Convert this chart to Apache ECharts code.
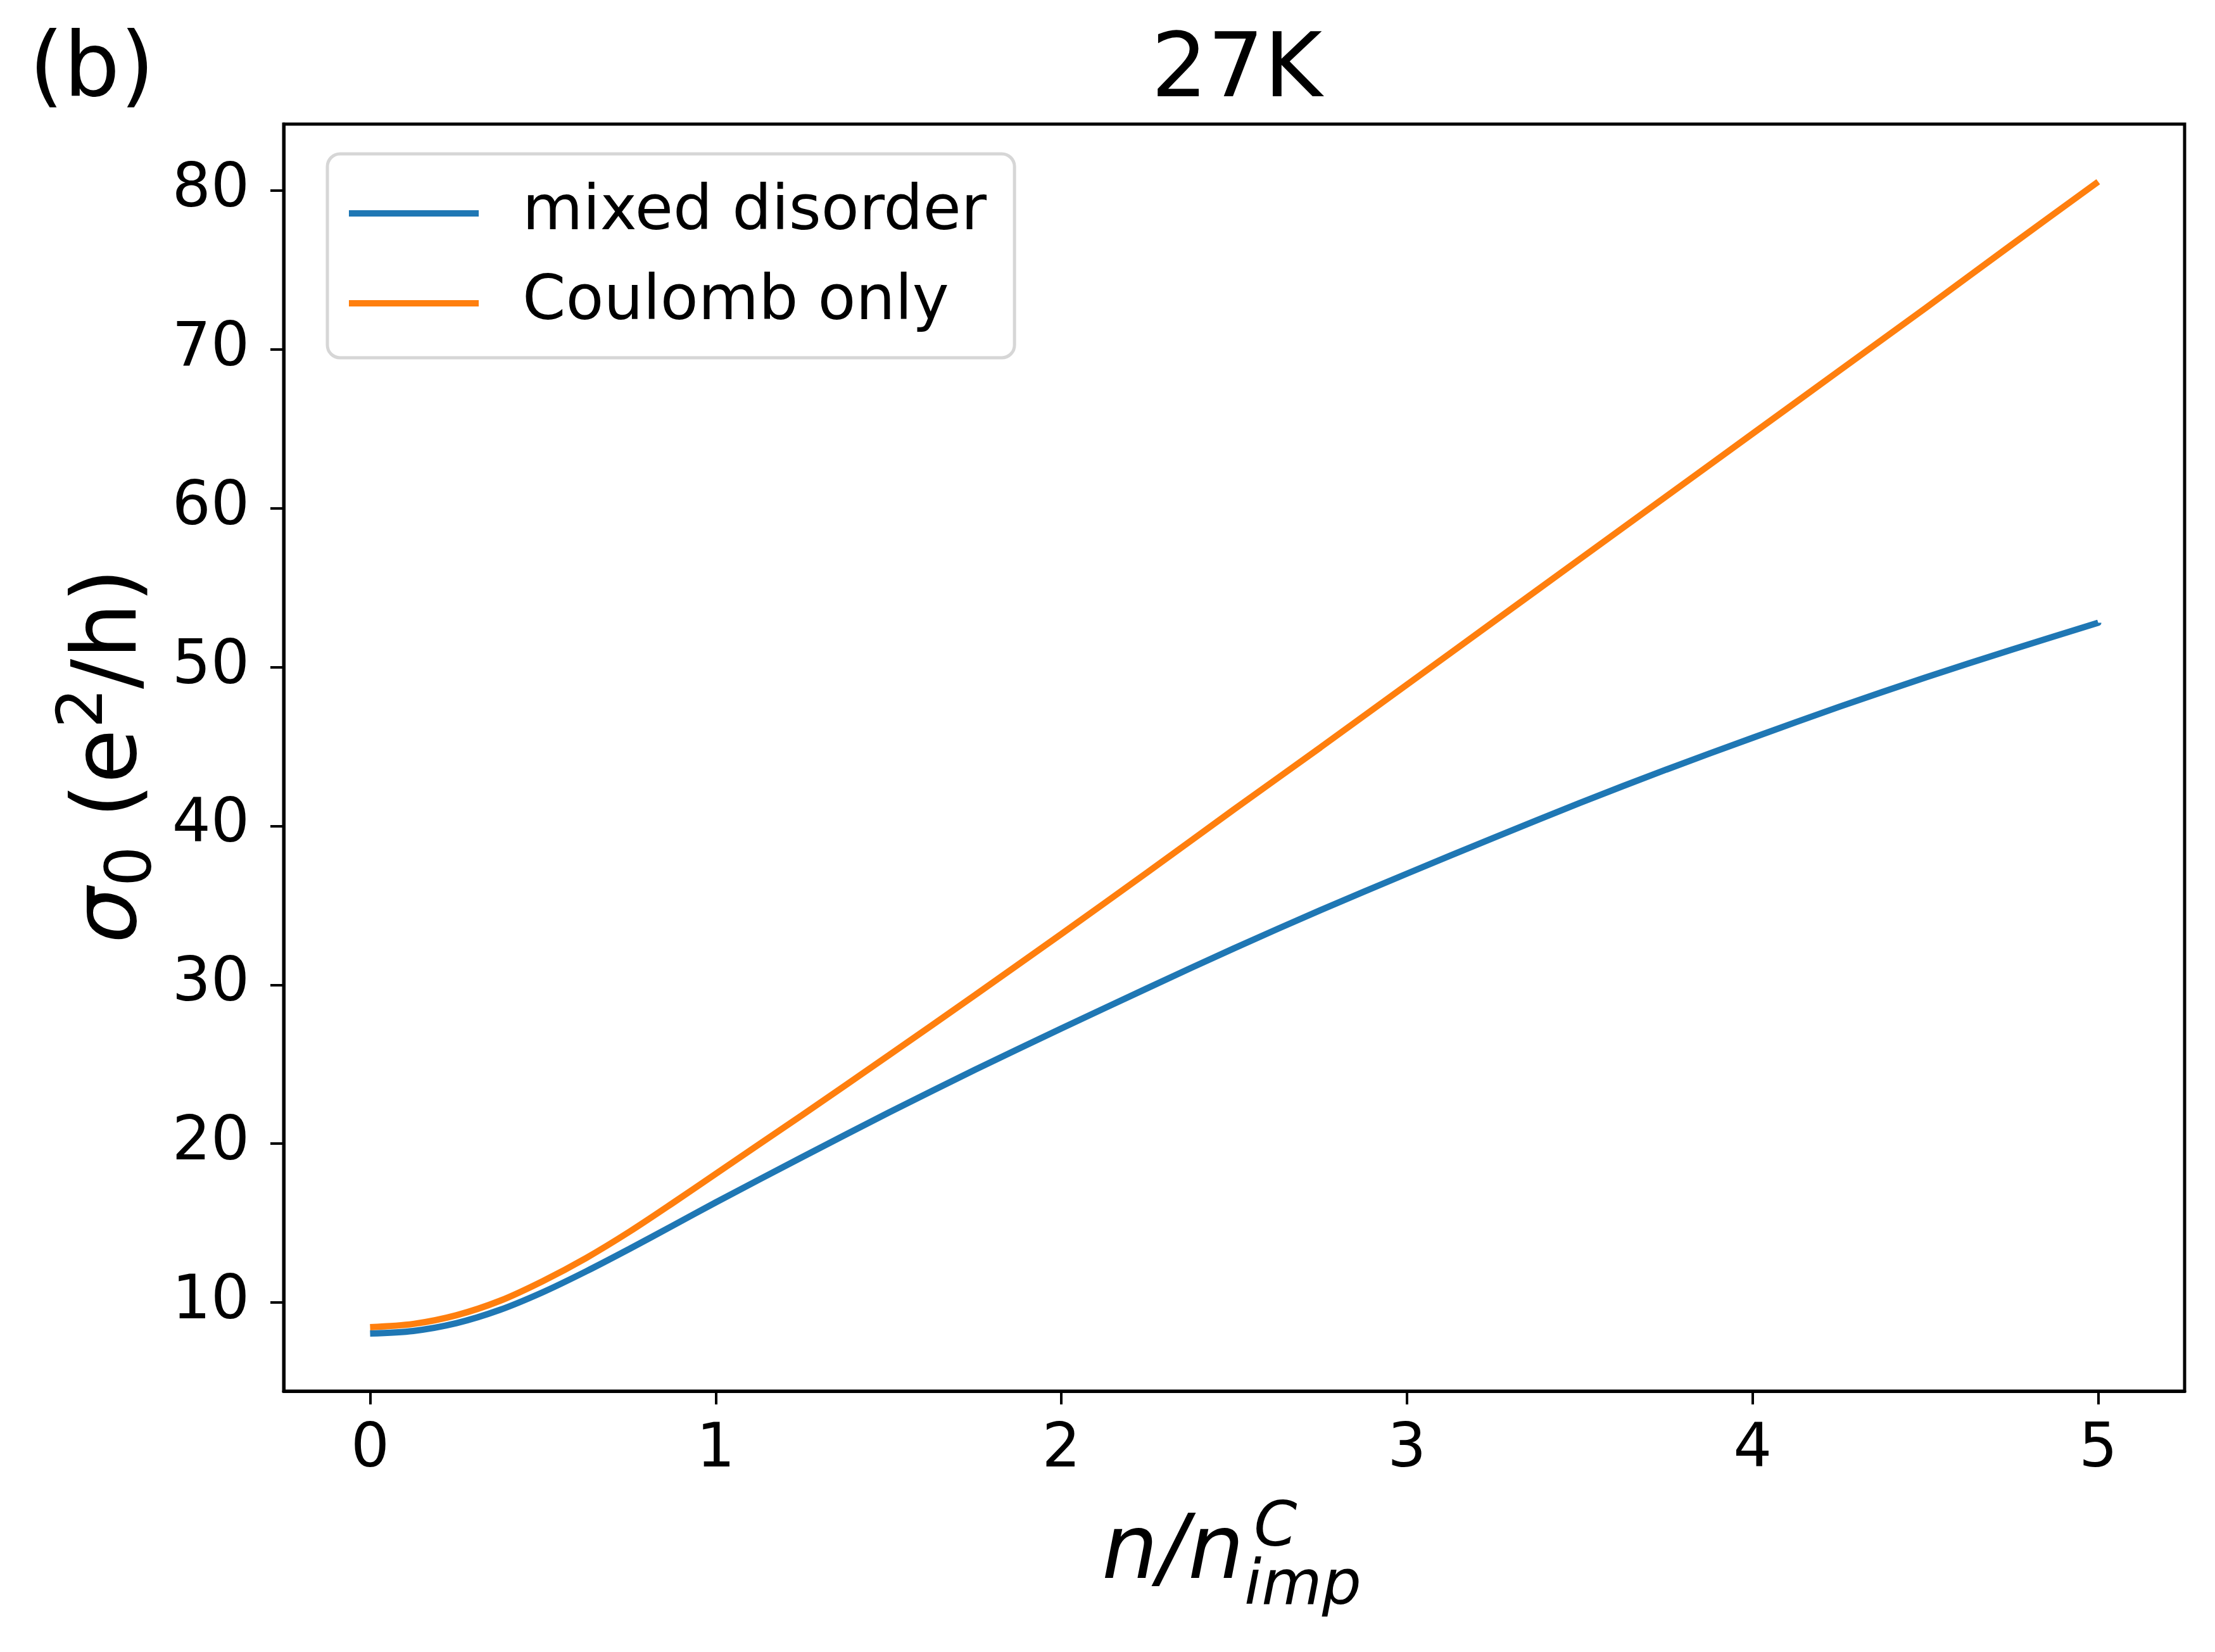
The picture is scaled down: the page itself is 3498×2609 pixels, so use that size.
<!DOCTYPE html>
<html>
<head>
<meta charset="utf-8">
<script src="https://cdn.jsdelivr.net/npm/echarts@6/dist/echarts.min.js"></script>
<style>
  html, body { margin: 0; padding: 0; background: #fff; }
  #chart { width: 3498px; height: 2609px; }
</style>
</head>
<body>
<div id="chart"></div>
<script>
// n / n_imp^C
const nValues = [0, 0.125, 0.25, 0.375, 0.5, 0.625, 0.75, 0.875, 1, 1.25, 1.5, 1.75, 2, 2.25, 2.5, 2.75, 3, 3.25, 3.5, 3.75, 4, 4.25, 4.5, 4.75, 5];
const mixedDisorder = [8.05, 8.21, 8.7, 9.53, 10.65, 11.96, 13.37, 14.83, 16.3, 19.15, 21.95, 24.65, 27.25, 29.8, 32.3, 34.7, 37.0, 39.25, 41.45, 43.55, 45.55, 47.5, 49.35, 51.1, 52.8];
const coulombOnly = [8.45, 8.65, 9.2, 10.1, 11.35, 12.8, 14.45, 16.25, 18.1, 21.8, 25.55, 29.35, 33.2, 37.1, 41.05, 44.95, 48.9, 52.85, 56.8, 60.75, 64.7, 68.65, 72.6, 76.6, 80.56];
const xTicks = [0, 1, 2, 3, 4, 5];
const yTicks = [10, 20, 30, 40, 50, 60, 70, 80];

const FONT = 'DejaVu Sans';
const chart = echarts.init(document.getElementById('chart'));

const toPairs = ys => nValues.map((x, i) => [x, ys[i]]);

chart.setOption({
  animation: false,
  backgroundColor: '#fff',
  textStyle: { fontFamily: FONT, color: '#000' },
  grid: {
    left: 448, top: 196, width: 3002, height: 2001,
    show: true, borderColor: '#000', borderWidth: 5, backgroundColor: 'transparent'
  },
  legend: {
    left: 517, top: 243,
    orient: 'vertical',
    icon: 'rect',
    itemWidth: 205, itemHeight: 10,
    itemGap: 42,
    padding: [44, 44, 36, 34],
    backgroundColor: '#fff',
    borderColor: '#d6d6d6', borderWidth: 5, borderRadius: 20,
    textStyle: { fontFamily: FONT, fontSize: 98, lineHeight: 100, color: '#000', padding: [0, 0, 0, 64] },
    data: ['mixed disorder', 'Coulomb only']
  },
  xAxis: {
    type: 'value', min: -0.25, max: 5.25,
    splitLine: { show: false },
    axisLine: { show: true, onZero: false, lineStyle: { color: '#000', width: 5 } },
    axisTick: { show: true, inside: false, length: 21, lineStyle: { color: '#000', width: 4 }, customValues: xTicks },
    axisLabel: { fontFamily: FONT, fontSize: 96, color: '#000', margin: 46, customValues: xTicks }
  },
  yAxis: {
    type: 'value', min: 4.42, max: 84.19,
    splitLine: { show: false },
    axisLine: { show: true, onZero: false, lineStyle: { color: '#000', width: 5 } },
    axisTick: { show: true, inside: false, length: 21, lineStyle: { color: '#000', width: 4 }, customValues: yTicks },
    axisLabel: { fontFamily: FONT, fontSize: 96, color: '#000', margin: 54, customValues: yTicks }
  },
  series: [
    {
      name: 'mixed disorder', type: 'line', data: toPairs(mixedDisorder),
      symbol: 'none', smooth: 0.3,
      itemStyle: { color: '#1f77b4' },
      lineStyle: { color: '#1f77b4', width: 10 }
    },
    {
      name: 'Coulomb only', type: 'line', data: toPairs(coulombOnly),
      symbol: 'none', smooth: 0.3,
      itemStyle: { color: '#ff7f0e' },
      lineStyle: { color: '#ff7f0e', width: 10 }
    }
  ],
  graphic: [
    // title and panel tag
    { type: 'text', x: 1953, y: 116, style: { text: '27K', font: '140px "DejaVu Sans"', fill: '#000', align: 'center', verticalAlign: 'middle' } },
    { type: 'text', x: 46, y: 115, style: { text: '(b)', font: '140px "DejaVu Sans"', fill: '#000', align: 'left', verticalAlign: 'middle' } },
    // x axis name: n/n_imp^C
    { type: 'text', x: 1740, y: 2456, style: { text: 'n/n', font: 'italic 140px "DejaVu Sans"', fill: '#000', align: 'left', verticalAlign: 'middle' } },
    { type: 'text', x: 1965, y: 2508, style: { text: 'imp', font: 'italic 98px "DejaVu Sans"', fill: '#000', align: 'left', verticalAlign: 'middle' } },
    { type: 'text', x: 1980, y: 2416, style: { text: 'C', font: 'italic 98px "DejaVu Sans"', fill: '#000', align: 'left', verticalAlign: 'middle' } },
    // y axis name: σ_0 (e^2/h), rotated
    {
      type: 'group', x: 220, y: 1490, rotation: Math.PI / 2,
      children: [
        { type: 'text', x: 0, y: -42, style: { text: 'σ', font: 'italic 140px "DejaVu Sans"', fill: '#000', align: 'left', verticalAlign: 'middle' } },
        { type: 'text', x: 90, y: -8, style: { text: '0', font: '100px "DejaVu Sans"', fill: '#000', align: 'left', verticalAlign: 'middle' } },
        { type: 'text', x: 198, y: -42, style: { text: '(e', font: '140px "DejaVu Sans"', fill: '#000', align: 'left', verticalAlign: 'middle' } },
        { type: 'text', x: 340, y: -85, style: { text: '2', font: '100px "DejaVu Sans"', fill: '#000', align: 'left', verticalAlign: 'middle' } },
        { type: 'text', x: 402, y: -42, style: { text: '/h)', font: '140px "DejaVu Sans"', fill: '#000', align: 'left', verticalAlign: 'middle' } }
      ]
    }
  ]
});
</script>
</body>
</html>
